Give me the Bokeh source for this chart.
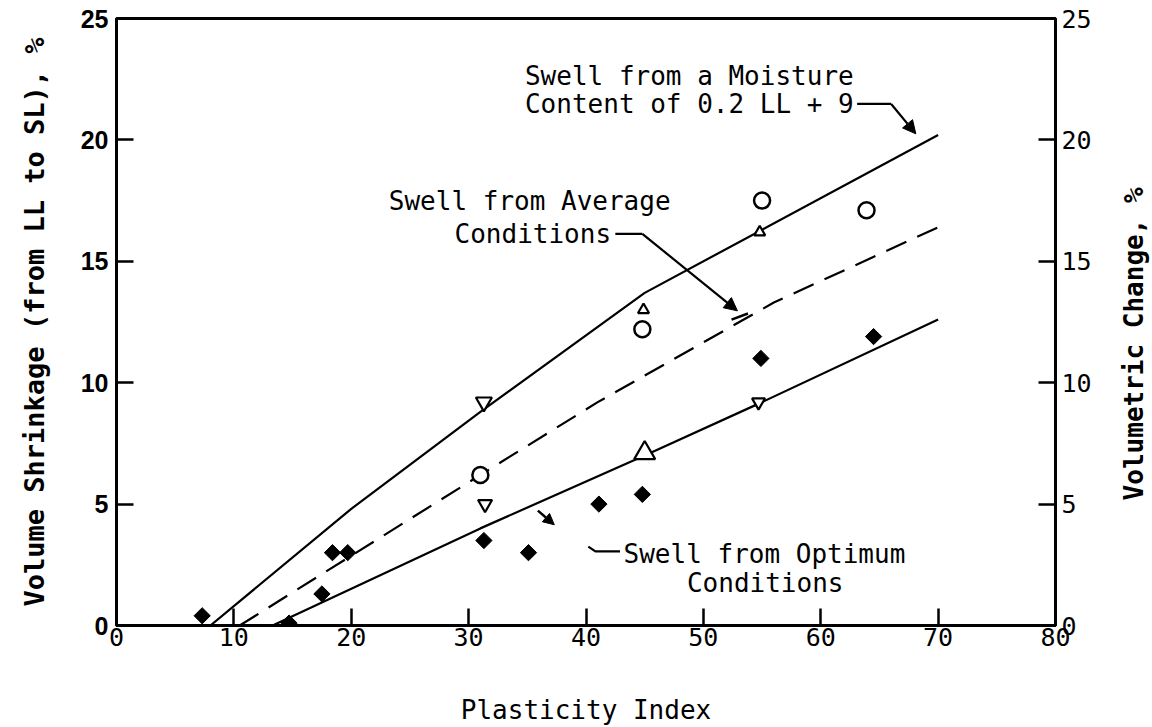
import numpy as np
from bokeh.plotting import figure
from bokeh.layouts import row
from bokeh.models import LinearAxis, Range1d, FixedTicker, Arrow, NormalHead
from bokeh.core.properties import value
from bokeh.embed import file_html
from bokeh.resources import INLINE

# ---------------- data ----------------
# filled diamonds
dia_x = [7.3, 14.7, 17.5, 18.4, 19.7, 31.3, 35.1, 41.1, 44.8, 54.9, 64.5]
dia_y = [0.4, 0.1, 1.3, 3.0, 3.0, 3.5, 3.0, 5.0, 5.4, 11.0, 11.9]
# open circles
circ_x = [31.0, 44.8, 55.0, 63.9]
circ_y = [6.2, 12.2, 17.5, 17.1]
# open inverted triangles
tdn_x = [31.3, 31.4, 54.7]
tdn_y = [9.2, 5.0, 9.2]
# open triangles
tup_x = [44.9, 54.8, 45.0]
tup_y = [13.0, 16.2, 7.1]
# fitted curves
moist_x = [8, 20, 31, 45, 70]
moist_y = [0, 4.8, 8.8, 13.7, 20.2]
avg_x = [10.5, 31, 41, 56, 70]
avg_y = [0, 6.2, 9.2, 13.3, 16.4]
opt_x = [13.3, 31, 45, 55, 70]
opt_y = [0, 4.0, 7.0, 9.2, 12.6]

x_ticks = [0, 10, 20, 30, 40, 50, 60, 70, 80]
y_ticks = [0, 5, 10, 15, 20, 25]

MONO = "DejaVu Sans Mono"

yr = Range1d(0, 25)
p = figure(width=1100, height=727,
           x_range=Range1d(0, 80), y_range=yr,
           output_backend="svg", toolbar_location=None,
           min_border_left=116, min_border_top=18,
           min_border_right=45, min_border_bottom=102)
p.grid.visible = False
p.background_fill_color = "white"
p.border_fill_color = "white"
p.outline_line_color = "black"
p.outline_line_width = 3

# ---------------- axes ----------------
xa = p.xaxis[0]
xa.ticker = FixedTicker(ticks=x_ticks)
xa.axis_label = "Plasticity Index"
xa.axis_label_text_font = MONO
xa.axis_label_text_font_size = "26px"
xa.axis_label_text_font_style = "normal"
xa.axis_label_standoff = 46
xa.major_label_text_font = MONO
xa.major_label_text_font_size = "25px"
xa.major_label_standoff = 2

ya = p.yaxis[0]
ya.ticker = FixedTicker(ticks=y_ticks)
ya.axis_label = "Volume Shrinkage (from LL to SL), %"
ya.axis_label_text_font = MONO
ya.axis_label_text_font_size = "27px"
ya.axis_label_text_font_style = "bold"
ya.axis_label_standoff = 28
ya.major_label_text_font = "Liberation Sans"
ya.major_label_text_font_style = "bold"
ya.major_label_text_font_size = "25px"
ya.major_label_standoff = 8

ra = LinearAxis(ticker=FixedTicker(ticks=y_ticks))
ra.major_label_text_font = MONO
ra.major_label_text_font_size = "25px"
ra.major_label_standoff = 6
p.add_layout(ra, "right")

for ax in (xa, ya, ra):
    ax.axis_line_color = "black"
    ax.axis_line_width = 3
    ax.major_tick_in = 17
    ax.major_tick_out = 0
    ax.major_tick_line_width = 2.5
    ax.major_tick_line_color = "black"
    ax.minor_tick_line_color = None
    ax.major_label_text_color = "black"
    ax.axis_label_text_color = "black"

# ---------------- curves ----------------
p.line(moist_x, moist_y, line_color="black", line_width=2.2)
p.line(avg_x, avg_y, line_color="black", line_width=2.2, line_dash="22 12")
p.line(opt_x, opt_y, line_color="black", line_width=2.2)

# ---------------- points ----------------
p.scatter(dia_x, dia_y, marker="square", angle=np.pi / 4, size=11.5,
          fill_color="black", line_color="black")
p.scatter(circ_x, circ_y, marker="circle", size=16, fill_color="white",
          line_color="black", line_width=2.5)
p.scatter(tdn_x, tdn_y, marker="inverted_triangle", size=[16, 14, 13],
          fill_color="white", line_color="black", line_width=2.2)
p.scatter(tup_x, tup_y, marker="triangle", size=[11, 11, 21],
          fill_color="white", line_color="black", line_width=2.2)

# ---------------- annotations ----------------
txt = dict(text_font=value(MONO), text_font_size="26px", text_color="black",
           text_align="left", text_baseline="middle")
p.text(x=[34.8, 34.8], y=[22.63, 21.48],
       text=["Swell from a Moisture", "Content of 0.2 LL + 9"], **txt)
p.text(x=[23.2, 28.8], y=[17.49, 16.13],
       text=["Swell from Average", "Conditions"], **txt)
p.text(x=[43.2, 48.6], y=[2.96, 1.73],
       text=["Swell from Optimum", "Conditions"], **txt)

lead = dict(line_color="black", line_width=2.2)
# moisture leader
p.line([63.1, 66.0], [21.48, 21.48], **lead)
p.add_layout(Arrow(end=NormalHead(size=13, fill_color="black", line_color="black"),
                   x_start=66.0, y_start=21.48, x_end=68.1, y_end=20.25,
                   line_width=2.2, line_color="black"))
# average leader
p.line([42.5, 44.8], [16.13, 16.13], **lead)
p.add_layout(Arrow(end=NormalHead(size=13, fill_color="black", line_color="black"),
                   x_start=44.8, y_start=16.13, x_end=52.9, y_end=12.96,
                   line_width=2.2, line_color="black"))
p.line([52.4, 53.8], [12.6, 12.85], line_color="black", line_width=2.5)
# optimum leader
p.line([40.2, 40.8, 42.9], [3.25, 3.05, 3.05], **lead)
p.add_layout(Arrow(end=NormalHead(size=11, fill_color="black", line_color="black"),
                   x_start=35.9, y_start=4.73, x_end=37.3, y_end=4.15,
                   line_width=2.5, line_color="black"))

# ---------------- right-hand title strip (reads bottom to top) ----------------
t = figure(width=52, height=727, x_range=Range1d(0, 52), y_range=yr,
           output_backend="svg", toolbar_location=None,
           x_axis_location=None, y_axis_location=None,
           min_border_left=0, min_border_right=0,
           min_border_top=18, min_border_bottom=102)
t.grid.visible = False
t.outline_line_color = None
t.border_fill_color = "white"
t.background_fill_color = "white"
t.text(x=[33], y=[11.6], text=["Volumetric Change, %"], angle=np.pi / 2,
       text_font=value(MONO), text_font_size="26px", text_font_style="bold",
       text_color="black", text_align="center", text_baseline="middle")

layout = row(p, t, spacing=0)
open("out.html", "w").write(file_html(layout, INLINE))
